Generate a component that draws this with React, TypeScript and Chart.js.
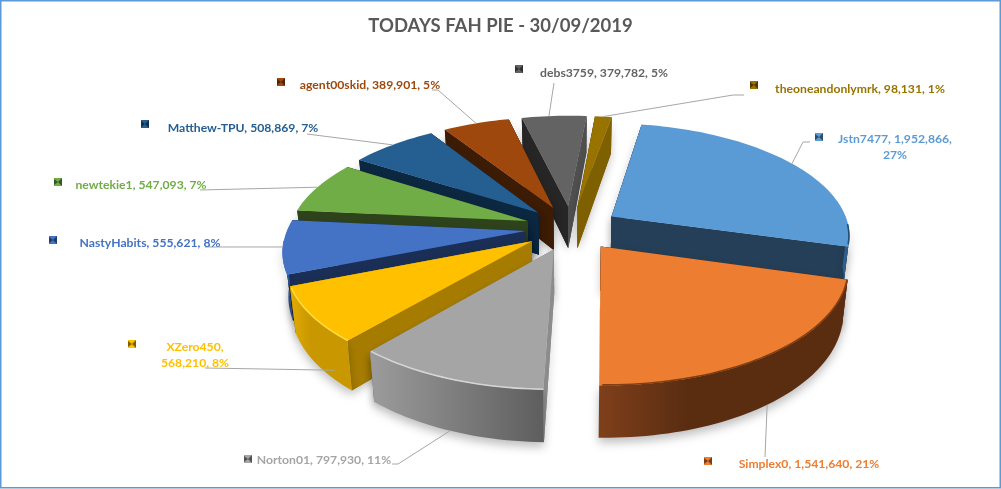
import React, { useEffect, useRef } from "react";
import { Chart, registerables } from "chart.js";

Chart.register(...registerables);

const names = ["Jstn7477", "Simplex0", "Norton01", "XZero450", "NastyHabits", "newtekie1", "Matthew-TPU", "agent00skid", "debs3759", "theoneandonlymrk"];
const values = [1952866, 1541640, 797930, 568210, 555621, 547093, 508869, 389901, 379782, 98131];
const percents = [27, 21, 11, 8, 8, 7, 7, 5, 5, 1];
const titleText = "TODAYS FAH PIE - 30/09/2019";

const topColors = ["#5B9BD5", "#ED7D31", "#A5A5A5", "#FFC000", "#4472C4", "#70AD47", "#255E91", "#9E480E", "#636363", "#997300"];
const faceStart = ["#243F57", "#5C2E12", "#8C8C8C", "#A67C00", "#1B2F56", "#2E431C", "#0C2740", "#3D1C05", "#262626", "#5C4500"];
const faceEnd = ["#243F57", "#5C2E12", "#8C8C8C", "#A67C00", "#1B2F56", "#2E431C", "#0C2740", "#3D1C05", "#505050", "#7F6000"];
const rimLeft = ["#2F5F8A", "#7F3F1B", "#9C9C9C", "#E3AC00", "#2F5597", "#3F6B28", "#163E62", "#5E2C09", "#3C3C3C", "#5C4500"];
const rimRight = ["#2F5F8A", "#5A2D11", "#5E5E5E", "#C99800", "#2F5597", "#3F6B28", "#163E62", "#5E2C09", "#3C3C3C", "#5C4500"];
const rimEdge = ["rgba(30,70,110,.9)", "rgba(120,55,15,.9)", "rgba(225,225,225,.8)", "rgba(255,220,70,.95)", "rgba(70,115,195,.9)", "rgba(70,110,40,.5)", "rgba(30,80,120,.5)", "rgba(120,55,15,.5)", "rgba(90,90,90,.5)", "rgba(120,90,0,.5)"];
const explode = [48, 48, 48, 48, 46, 47, 48, 48, 48, 48];

// Label layout, drawn after the pie: text centre, marker centre, leader elbow chain and the rim depth the leader ends at.
const labelLines = [["Jstn7477, 1,952,866,", "27%"], null, null, ["XZero450,", "568,210, 8%"], null, null, null, null, null, null];
const labelPos = [[895, 139], [809, 464], [324, 460], [195, 347], [150, 243], [141, 185], [243, 128], [370, 85], [604, 73], [860, 89]];
const markerPos = [[819, 137], [708, 461], [248, 459], [132, 344], [53, 240], [58, 182], [145, 124], [281, 82], [519, 69], [754, 85]];
const leaderFrom = [[[810, 142], [803, 142]], [[765, 457]], [[392, 464], [398, 464]], [[205, 368]], [[205, 247]], [[200, 190]], [[307, 134]], [[432, 90], [438, 90]], [[554, 83]], [[744, 95], [733, 95]]];
const leaderAngle = [0.5, 0.5, 0.5, 0.2, 0.5, 0.5, 0.5, 0.5, 0.42, 0.5];
const leaderDepth = [0, 1, 1, 0.8, 0, 0, 0, 0, 0, 0];

const ROTATION = 10;
const ORIGIN_DX = 71;
const ORIGIN_DY = 0;
const TILT = 0.466;
const DEPTH = 43;
const PERSP_Y = 0.00065;
const PERSP_X = 0.00065;
const SHRINK = 0.02;

type Pt = [number, number];

function projector(chart: any) {
  const a = chart.chartArea;
  const ox = (a.left + a.right) / 2 + ORIGIN_DX;
  const oy = (a.top + a.bottom) / 2 + ORIGIN_DY;
  return (el: any, r: number, ang: number, z: number): Pt => {
    const mid = (el.startAngle + el.endAngle) / 2;
    const e = el.options.offset || 0;
    const X = Math.cos(ang) * r + Math.cos(mid) * e;
    const Y = Math.sin(ang) * r + Math.sin(mid) * e;
    const wy = 1 - PERSP_Y * Y;
    const wx = 1 - PERSP_X * Y;
    return [ox + (X / wx) * (1 - SHRINK * z), oy + (TILT * Y) / wy + (z * DEPTH) / wy];
  };
}

function poly(ctx: CanvasRenderingContext2D, pts: Pt[]) {
  ctx.beginPath();
  pts.forEach((p, i) => (i ? ctx.lineTo(p[0], p[1]) : ctx.moveTo(p[0], p[1])));
  ctx.closePath();
}

const pie3d = {
  id: "pie3d",
  beforeDatasetDraw(chart: any) {
    const ctx: CanvasRenderingContext2D = chart.ctx;
    const P = projector(chart);
    const arcs: any[] = chart.getDatasetMeta(0).data;
    const order = arcs
      .map((el, i) => {
        const mid = (el.startAngle + el.endAngle) / 2;
        return { i, key: Math.sin(mid) * (el.outerRadius * 0.6 + el.options.offset) };
      })
      .sort((a, b) => a.key - b.key);
    const STEP = Math.PI / 120;
    for (const { i } of order) {
      const el = arcs[i];
      const R = el.outerRadius;
      const a0 = el.startAngle;
      const a1 = el.endAngle;
      const face = (ang: number, col: string) => {
        poly(ctx, [P(el, 0, ang, 0), P(el, R, ang, 0), P(el, R, ang, 1), P(el, 0, ang, 1)]);
        ctx.fillStyle = col;
        ctx.fill();
      };
      ctx.save();
      ctx.shadowColor = "rgba(0,0,0,.22)";
      ctx.shadowBlur = 9;
      ctx.shadowOffsetY = 4;
      face(a0, faceStart[i]);
      face(a1, faceEnd[i]);
      ctx.restore();
      face(a0, faceStart[i]);
      face(a1, faceEnd[i]);
      // front rim; angles are canvas angles, PI/2 is toward the viewer
      const lo = Math.PI / 2 - 1.5;
      const hi = Math.PI / 2 + 1.5;
      let from = -1, to = -1;
      for (const k of [0, 2 * Math.PI, -2 * Math.PI]) {
        const f = Math.max(a0, lo + k), t = Math.min(a1, hi + k);
        if (t > f) { from = f; to = t; break; }
      }
      if (from !== -1) {
        const upper: Pt[] = [], lower: Pt[] = [];
        for (let a = from; a < to; a += STEP) { upper.push(P(el, R, a, 0)); lower.push(P(el, R, a, 1)); }
        upper.push(P(el, R, to, 0)); lower.push(P(el, R, to, 1));
        const xs = upper.map((p) => p[0]);
        const g = ctx.createLinearGradient(Math.min(...xs), 0, Math.max(...xs), 0);
        g.addColorStop(0, rimLeft[i]);
        if (i !== 2) g.addColorStop(0.35, rimRight[i]);
        g.addColorStop(1, rimRight[i]);
        ctx.fillStyle = g;
        ctx.save();
        ctx.shadowColor = "rgba(0,0,0,.25)";
        ctx.shadowBlur = 10;
        ctx.shadowOffsetY = 5;
        poly(ctx, [...upper, ...lower.reverse()]);
        ctx.fill();
        ctx.restore();
      }
      const top: Pt[] = [P(el, 0, a0, 0)];
      for (let a = a0; a < a1; a += STEP) top.push(P(el, R, a, 0));
      top.push(P(el, R, a1, 0));
      poly(ctx, top);
      ctx.fillStyle = topColors[i];
      ctx.fill();
      if (from !== -1) {
        ctx.beginPath();
        for (let a = from; a < to; a += STEP) {
          const p = P(el, R - 0.5, a, 0);
          a === from ? ctx.moveTo(p[0], p[1]) : ctx.lineTo(p[0], p[1]);
        }
        ctx.strokeStyle = rimEdge[i];
        ctx.lineWidth = 1.6;
        ctx.stroke();
      }
    }
    return false;
  },
  afterDraw(chart: any) {
    const ctx: CanvasRenderingContext2D = chart.ctx;
    const P = projector(chart);
    const arcs: any[] = chart.getDatasetMeta(0).data;
    ctx.save();
    ctx.strokeStyle = "#5B9BD5";
    ctx.lineWidth = 1.5;
    ctx.strokeRect(0.75, 0.75, 999.5, 487);
    arcs.forEach((el, i) => {
      const end = P(el, el.outerRadius, el.startAngle + (el.endAngle - el.startAngle) * leaderAngle[i], leaderDepth[i]);
      ctx.beginPath();
      leaderFrom[i].forEach((p, k) => (k ? ctx.lineTo(p[0], p[1]) : ctx.moveTo(p[0], p[1])));
      ctx.lineTo(end[0], end[1]);
      ctx.strokeStyle = "#A6A6A6";
      ctx.lineWidth = 1;
      ctx.stroke();
      const [mx, my] = markerPos[i];
      ctx.fillStyle = topColors[i];
      ctx.fillRect(mx - 4, my - 4, 8, 8);
      ctx.fillStyle = "rgba(0,0,0,.5)";
      poly(ctx, [[mx - 4, my - 3], [mx, my], [mx - 4, my + 3]]);
      ctx.fill();
      poly(ctx, [[mx + 4, my - 4], [mx, my], [mx + 4, my + 4]]);
      ctx.fill();
      const lines = labelLines[i] || [`${names[i]}, ${values[i].toLocaleString("en-US")}, ${percents[i]}%`];
      ctx.font = "700 12.2px Lato";
      ctx.fillStyle = topColors[i];
      ctx.textAlign = "center";
      ctx.textBaseline = "middle";
      lines.forEach((t, k) => ctx.fillText(t, labelPos[i][0], labelPos[i][1] + k * 16));
    });
    ctx.restore();
  },
};

export default function App() {
  const ref = useRef<HTMLCanvasElement>(null);
  useEffect(() => {
    document.body.style.margin = "0";
    const chart = new Chart(ref.current!, {
      type: "pie",
      data: {
        labels: names,
        datasets: [{ data: values, backgroundColor: topColors, borderWidth: 0, offset: explode }],
      },
      options: {
        responsive: false,
        animation: false,
        devicePixelRatio: 1,
        rotation: ROTATION,
        radius: 238,
        layout: { padding: { bottom: 75 } },
        plugins: {
          legend: { display: false },
          tooltip: { enabled: false },
          title: {
            display: true,
            text: titleText,
            color: "#595959",
            font: { family: "Lato", size: 18.5, weight: "bold" },
            padding: { top: 15, bottom: 5 },
          },
        },
      } as any,
      plugins: [pie3d],
    });
    return () => chart.destroy();
  }, []);
  return <canvas ref={ref} width={1001} height={489} style={{ display: "block", background: "#fff" }} />;
}
